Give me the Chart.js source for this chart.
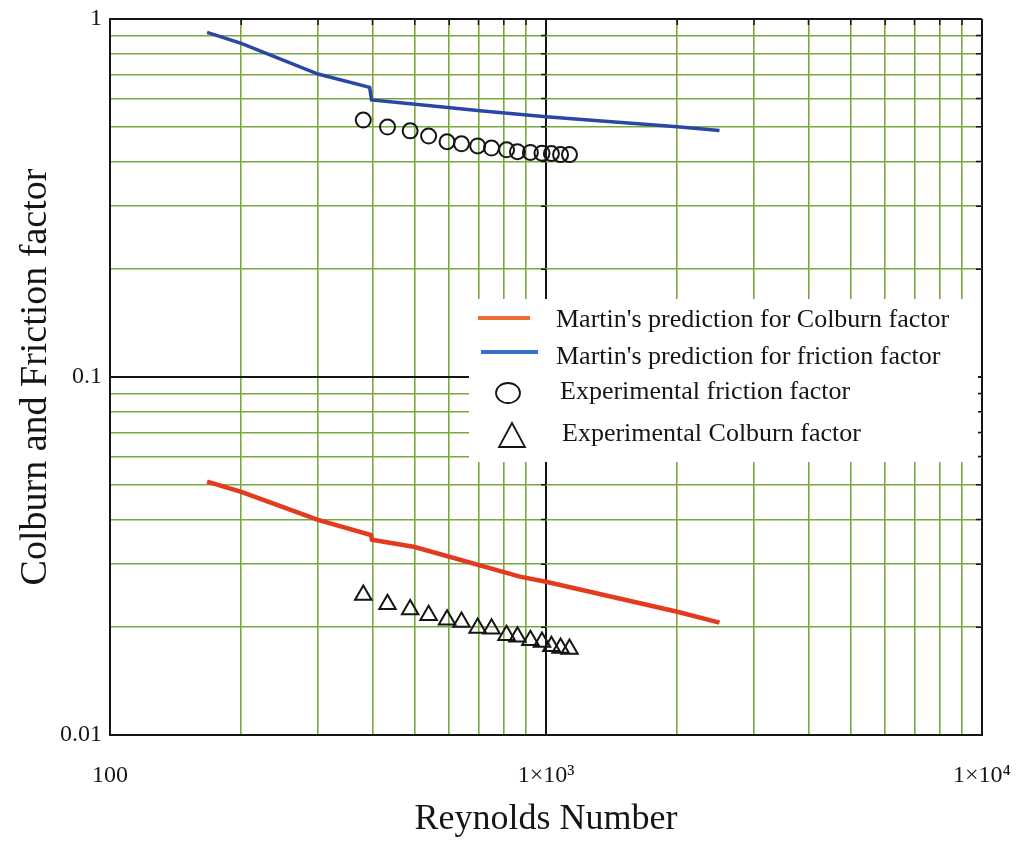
<!DOCTYPE html>
<html lang="en">
<head>
<meta charset="UTF-8">
<title>Colburn and Friction factor vs Reynolds Number</title>
<script src="https://cdn.jsdelivr.net/npm/chart.js"></script>
<style>
    body { margin: 0; background: #fff; }
    canvas { display: block; }
</style>
</head>
<body>
<canvas id="chart" width="1025" height="841"></canvas>
<script>
// Martin's prediction curves
const reMartinF = [167, 200, 300, 394, 398, 495, 706, 1000, 2000, 2500];
const fMartin = [0.918, 0.855, 0.702, 0.644, 0.594, 0.579, 0.554, 0.533, 0.500, 0.488];
const reMartinJ = [167, 200, 300, 397, 399, 500, 871, 1000, 2000, 2500];
const jMartin = [0.0510, 0.0478, 0.0399, 0.0362, 0.0351, 0.0335, 0.0277, 0.0268, 0.0221, 0.0206];

// experimental points
const reExp = [381, 433, 488, 538, 593, 640, 697, 750, 812, 860, 921, 979, 1029, 1080, 1132];
const fExp = [0.522, 0.499, 0.487, 0.471, 0.454, 0.448, 0.442, 0.436, 0.431, 0.426, 0.424, 0.422, 0.421, 0.418, 0.418];
const jExp = [0.0246, 0.0232, 0.0224, 0.0216, 0.0210, 0.0207, 0.0199, 0.0198, 0.0190, 0.0188, 0.0184, 0.0182, 0.0177, 0.0175, 0.0174];

// grid / tick values
const xGrid = [100, 200, 300, 400, 500, 600, 700, 800, 900,
               1000, 2000, 3000, 4000, 5000, 6000, 7000, 8000, 9000, 10000];
const yGrid = [0.01, 0.02, 0.03, 0.04, 0.05, 0.06, 0.07, 0.08, 0.09,
               0.1, 0.2, 0.3, 0.4, 0.5, 0.6, 0.7, 0.8, 0.9, 1];
const xLabels = { '100': '100', '1000': '1×10³', '10000': '1×10⁴' };
const yLabels = { '0.01': '0.01', '0.1': '0.1', '1': '1' };
const xBlack = [100, 1000, 10000];
const yBlack = [0.01, 0.1, 1];

const GREEN = '#79a83e';
const INK = '#151515';
const SERIF = "'Liberation Serif', 'Times New Roman', serif";

const pts = (xs, ys) => xs.map((x, i) => ({ x: x, y: ys[i] }));

// legend box drawn inside the plot + small border ticks
const extras = {
    id: 'extras',
    beforeDatasetsDraw(chart) {
        const c = chart.ctx, xs = chart.scales.x, ys = chart.scales.y;
        const a = chart.chartArea;
        c.save();
        c.strokeStyle = INK;
        c.lineWidth = 1.5;
        c.beginPath();
        xGrid.forEach(v => {
            const px = xs.getPixelForValue(v);
            c.moveTo(px, a.top); c.lineTo(px, a.top + 6);
        });
        const p1000 = xs.getPixelForValue(1000);
        yGrid.forEach(v => {
            const py = ys.getPixelForValue(v);
            c.moveTo(a.right, py); c.lineTo(a.right - 6, py);
            c.moveTo(p1000 - 5, py); c.lineTo(p1000, py);
        });
        c.stroke();
        c.restore();
    },
    afterDraw(chart) {
        const c = chart.ctx;
        c.save();
        c.fillStyle = '#fff';
        c.fillRect(469, 299, 509, 163);

        c.lineCap = 'butt';
        c.lineWidth = 4;
        c.strokeStyle = '#f06a34';
        c.beginPath(); c.moveTo(478, 318); c.lineTo(530, 318); c.stroke();
        c.strokeStyle = '#3b6dd0';
        c.beginPath(); c.moveTo(481, 352); c.lineTo(538, 352); c.stroke();

        c.lineWidth = 1.8;
        c.strokeStyle = INK;
        c.beginPath(); c.ellipse(508, 393, 12, 10, 0, 0, Math.PI * 2); c.stroke();
        c.beginPath();
        c.moveTo(512, 423); c.lineTo(525, 447); c.lineTo(499, 447); c.closePath();
        c.stroke();

        c.fillStyle = INK;
        c.font = '26px ' + SERIF;
        c.textBaseline = 'middle';
        c.fillText("Martin's prediction for Colburn factor", 556, 320);
        c.fillText("Martin's prediction for friction factor", 556, 357);
        c.fillText('Experimental friction factor', 560, 392);
        c.fillText('Experimental Colburn factor', 562, 434);
        c.restore();
    }
};

new Chart(document.getElementById('chart'), {
    type: 'line',
    data: {
        datasets: [
            {
                label: 'Experimental friction factor',
                data: pts(reExp, fExp),
                showLine: false,
                pointStyle: 'circle',
                pointRadius: 7.5,
                borderColor: INK,
                borderWidth: 2,
                backgroundColor: 'rgba(0,0,0,0)'
            },
            {
                label: 'Experimental Colburn factor',
                data: pts(reExp, jExp),
                showLine: false,
                pointStyle: 'triangle',
                pointRadius: 9.5,
                borderColor: INK,
                borderWidth: 2,
                backgroundColor: 'rgba(0,0,0,0)'
            },
            {
                label: "Martin's prediction for friction factor",
                data: pts(reMartinF, fMartin),
                borderColor: '#2a47a4',
                borderWidth: 3.5,
                pointRadius: 0,
                tension: 0
            },
            {
                label: "Martin's prediction for Colburn factor",
                data: pts(reMartinJ, jMartin),
                borderColor: '#e43b20',
                borderWidth: 4.5,
                pointRadius: 0,
                tension: 0
            }
        ]
    },
    options: {
        responsive: false,
        devicePixelRatio: 1,
        animation: false,
        layout: { padding: { left: 0, right: 43, top: 19, bottom: 0 } },
        plugins: {
            legend: { display: false },
            tooltip: { enabled: false }
        },
        scales: {
            x: {
                type: 'logarithmic',
                min: 100,
                max: 10000,
                afterBuildTicks: s => { s.ticks = xGrid.map(v => ({ value: v })); },
                afterFit: s => { s.height = 106; s.paddingLeft = 0; s.paddingRight = 0; },
                grid: {
                    drawTicks: false,
                    color: ctx => xBlack.includes(ctx.tick && ctx.tick.value) ? INK : GREEN,
                    lineWidth: ctx => xBlack.includes(ctx.tick && ctx.tick.value) ? 2 : 1.6
                },
                border: { color: INK, width: 2 },
                ticks: {
                    autoSkip: false,
                    maxRotation: 0,
                    padding: 26,
                    color: INK,
                    font: { family: SERIF, size: 24 },
                    callback: v => xLabels[String(v)] || ''
                },
                title: {
                    display: true,
                    text: 'Reynolds Number',
                    color: INK,
                    font: { family: SERIF, size: 36 },
                    padding: { top: 0, bottom: 0 }
                }
            },
            y: {
                type: 'logarithmic',
                min: 0.01,
                max: 1,
                afterBuildTicks: s => { s.ticks = yGrid.map(v => ({ value: v })); },
                afterFit: s => { s.width = 110; s.paddingTop = 0; s.paddingBottom = 0; },
                grid: {
                    drawTicks: false,
                    color: ctx => yBlack.includes(ctx.tick && ctx.tick.value) ? INK : GREEN,
                    lineWidth: ctx => yBlack.includes(ctx.tick && ctx.tick.value) ? 2 : 1.6
                },
                border: { color: INK, width: 2 },
                ticks: {
                    autoSkip: false,
                    padding: 8,
                    color: INK,
                    font: { family: SERIF, size: 24 },
                    callback: v => yLabels[String(v)] || ''
                },
                title: {
                    display: true,
                    text: 'Colburn and Friction factor',
                    color: INK,
                    font: { family: SERIF, size: 38 },
                    padding: { top: 13, bottom: 0 }
                }
            }
        }
    },
    plugins: [extras]
});
</script>
</body>
</html>
